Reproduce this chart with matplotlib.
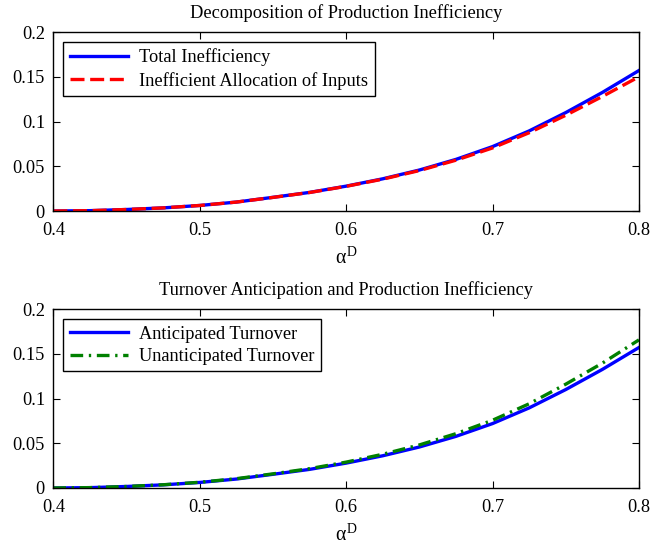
import matplotlib

matplotlib.use("Agg")
import matplotlib.pyplot as plt

plt.rcParams["font.family"] = ["Liberation Serif", "DejaVu Serif"]
plt.rcParams["mathtext.fontset"] = "custom"
plt.rcParams["mathtext.rm"] = "Liberation Serif"
plt.rcParams["mathtext.it"] = "Liberation Serif"

# alpha^D grid
alpha_d = [0.400, 0.425, 0.450, 0.475, 0.500, 0.525, 0.550, 0.575, 0.600,
           0.625, 0.650, 0.675, 0.700, 0.725, 0.750, 0.775, 0.800]

total_ineff = [0.0000, 0.0004, 0.0017, 0.0035, 0.0062, 0.0100, 0.0153, 0.0208, 0.0278,
               0.0360, 0.0458, 0.0577, 0.0720, 0.0895, 0.1100, 0.1325, 0.1570]
alloc_ineff = [0.0000, 0.0004, 0.0017, 0.0035, 0.0062, 0.0100, 0.0152, 0.0207, 0.0276,
               0.0356, 0.0452, 0.0568, 0.0705, 0.0875, 0.1070, 0.1280, 0.1500]

anticipated = total_ineff
unanticipated = [0.0000, 0.0004, 0.0017, 0.0036, 0.0064, 0.0104, 0.0158, 0.0216, 0.0289,
                 0.0377, 0.0481, 0.0607, 0.0757, 0.0941, 0.1160, 0.1395, 0.1655]

titles = ["Decomposition of Production Inefficiency",
          "Turnover Anticipation and Production Inefficiency"]
xticks = [0.4, 0.5, 0.6, 0.7, 0.8]
yticks = [0, 0.05, 0.1, 0.15, 0.2]
ytick_labels = ["0", "0.05", "0.1", "0.15", "0.2"]

LW = 2.4
FS = 13.2

fig = plt.figure(figsize=(6.51, 5.45), dpi=100)
ax_top = fig.add_axes((0.0819, 0.6128, 0.8996, 0.3284))
ax_bot = fig.add_axes((0.0819, 0.1046, 0.8996, 0.3284))

ax_top.plot(alpha_d, total_ineff, color="#0000ff", lw=LW, label="Total Inefficiency")
ax_top.plot(alpha_d, alloc_ineff, color="#ff0000", lw=LW, dashes=(4.2, 1.7),
            label="Inefficient Allocation of Inputs")

ax_bot.plot(alpha_d, anticipated, color="#0000ff", lw=LW, label="Anticipated Turnover")
ax_bot.plot(alpha_d, unanticipated, color="#008000", lw=LW, dashes=(3.8, 1.7, 0.7, 1.7),
            label="Unanticipated Turnover")

for ax, title in zip((ax_top, ax_bot), titles):
    ax.set_xlim(0.4, 0.8)
    ax.set_ylim(0, 0.2)
    ax.set_xticks(xticks, [f"{t:g}" for t in xticks], fontsize=FS)
    ax.set_yticks(yticks, ytick_labels, fontsize=FS)
    ax.tick_params(direction="in", top=True, right=True, length=5, width=0.8,
                   pad=6, color="black")
    ax.tick_params(axis="x", pad=8)
    for side in ax.spines.values():
        side.set_linewidth(1.0)
    ax.set_title(title, fontsize=FS, pad=10)
    ax.set_xlabel(r"$\alpha^{\mathrm{D}}$", fontsize=FS + 1, labelpad=6)
    leg = ax.legend(loc="upper left", fontsize=FS, handlelength=3.2,
                    fancybox=False, edgecolor="black", framealpha=1,
                    borderaxespad=0.55, borderpad=0.35, labelspacing=0.3,
                    handletextpad=0.6)
    leg.get_frame().set_linewidth(1.0)

fig.savefig("out.png", dpi=100, facecolor="white")
